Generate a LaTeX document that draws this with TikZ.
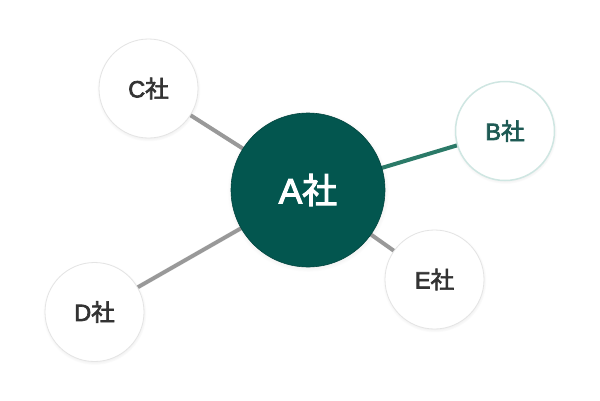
\documentclass[tikz,border=0pt]{standalone}
\usepackage{fontspec}
\newfontfamily\jp{Noto Sans CJK JP}[FakeBold=3]
\newfontfamily\lat{Liberation Sans}[FakeBold=3]
\newcommand{\lab}[1]{{\lat #1}{\jp 社}}
\usetikzlibrary{backgrounds,shadows}
\definecolor{adark}{HTML}{03564F}
\definecolor{bline}{HTML}{2B7A68}
\definecolor{btext}{HTML}{1E5A54}
\definecolor{bborder}{HTML}{CFE6E2}
\definecolor{gline}{HTML}{999999}
\definecolor{txt}{HTML}{333333}
\definecolor{cborder}{HTML}{E4E4E4}
\tikzset{
  shad/.style={circular drop shadow={shadow xshift=0pt,shadow yshift=-1pt,shadow scale=1.05,opacity=0.22}},
  bigc/.style={circle,fill=adark,draw=adark!80!black,line width=0.6pt,minimum size=154pt,inner sep=0pt,text=white,font=\fontsize{35}{35}\selectfont,shad},
  smallc/.style={circle,fill=white,draw=cborder,line width=0.8pt,minimum size=99pt,inner sep=0pt,text=txt,font=\fontsize{23.5}{23.5}\selectfont,shad},
  bc/.style={smallc,draw=bborder,line width=1.5pt,text=btext},
  gl/.style={draw=gline,line width=4pt},
  tl/.style={draw=bline,line width=4pt}
}
\begin{document}
\begin{tikzpicture}[x=1pt,y=-1pt]
\useasboundingbox (0,0) rectangle (600,400);
\node[bigc] (A) at (308,190) {\lab{A}};
\node[bc] (B) at (505,131) {\lab{B}};
\node[smallc] (C) at (148.5,88.5) {\lab{C}};
\node[smallc] (D) at (94.5,312) {\lab{D}};
\node[smallc] (E) at (434.5,279.5) {\lab{E}};
\begin{scope}[on background layer]
\draw[tl] (A.center) -- (B.center);
\draw[gl] (A.center) -- (C.center);
\draw[gl] (A.center) -- (D.center);
\draw[gl] (A.center) -- (E.center);
\end{scope}
\end{tikzpicture}
\end{document}
